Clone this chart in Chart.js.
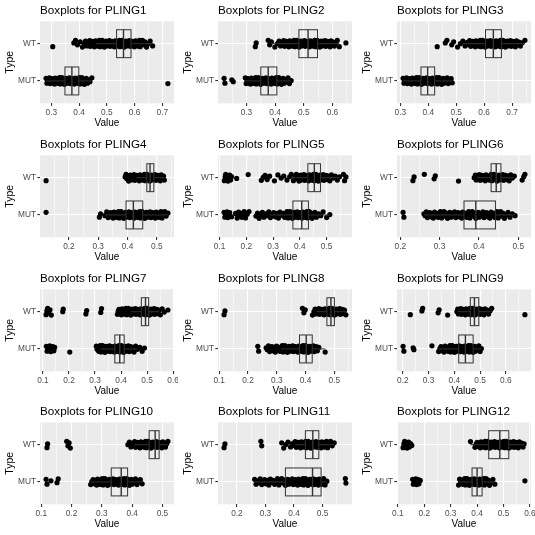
<!DOCTYPE html>
<html>
<head>
<meta charset="utf-8">
<script src="https://cdn.jsdelivr.net/npm/chart.js@4.4.1/dist/chart.umd.min.js"></script>
<style>
  html, body { margin: 0; padding: 0; background: #fff; }
  #grid { position: relative; width: 535px; height: 535px; }
  #grid canvas { position: absolute; }
</style>
</head>
<body>
<div id="grid"></div>
<script>
const panelTitles = ['PLING1', 'PLING2', 'PLING3', 'PLING4', 'PLING5', 'PLING6',
    'PLING7', 'PLING8', 'PLING9', 'PLING10', 'PLING11', 'PLING12'];
const typeLabels = ['MUT', 'WT'];

const xTicks = [
    [0.3, 0.4, 0.5, 0.6, 0.7],
    [0.3, 0.4, 0.5, 0.6],
    [0.3, 0.4, 0.5, 0.6, 0.7],
    [0.2, 0.3, 0.4, 0.5],
    [0.1, 0.2, 0.3, 0.4, 0.5],
    [0.2, 0.3, 0.4, 0.5],
    [0.1, 0.2, 0.3, 0.4, 0.5, 0.6],
    [0.1, 0.2, 0.3, 0.4, 0.5],
    [0.2, 0.3, 0.4, 0.5, 0.6],
    [0.1, 0.2, 0.3, 0.4, 0.5],
    [0.2, 0.3, 0.4, 0.5],
    [0.1, 0.2, 0.3, 0.4, 0.5, 0.6]
];

// box stats: [lower whisker, q1, median, q3, upper whisker]
const wtBoxes = [
    [0.46, 0.535, 0.56, 0.587, 0.665],
    [0.386, 0.483, 0.515, 0.548, 0.624],
    [0.524, 0.605, 0.633, 0.662, 0.746],
    [0.43, 0.466, 0.477, 0.49, 0.526],
    [0.368, 0.43, 0.454, 0.477, 0.548],
    [0.395, 0.431, 0.444, 0.456, 0.49],
    [0.438, 0.478, 0.494, 0.506, 0.546],
    [0.437, 0.474, 0.488, 0.5, 0.54],
    [0.413, 0.462, 0.478, 0.495, 0.545],
    [0.408, 0.456, 0.476, 0.489, 0.518],
    [0.404, 0.44, 0.466, 0.487, 0.541],
    [0.375, 0.444, 0.486, 0.52, 0.578]
];
const mutBoxes = [
    [0.281, 0.349, 0.374, 0.399, 0.446],
    [0.296, 0.35, 0.376, 0.406, 0.456],
    [0.31, 0.374, 0.398, 0.423, 0.486],
    [0.323, 0.395, 0.42, 0.452, 0.538],
    [0.29, 0.374, 0.407, 0.432, 0.512],
    [0.26, 0.362, 0.392, 0.442, 0.492],
    [0.323, 0.376, 0.395, 0.412, 0.463],
    [0.315, 0.379, 0.402, 0.423, 0.468],
    [0.339, 0.417, 0.443, 0.473, 0.505],
    [0.263, 0.331, 0.364, 0.385, 0.433],
    [0.262, 0.37, 0.465, 0.495, 0.515],
    [0.33, 0.381, 0.4, 0.419, 0.467]
];

const wtValues = [
    [0.305, 0.381, 0.387, 0.394, 0.404, 0.412, 0.418, 0.423, 0.428, 0.431, 0.435, 0.438, 0.44, 0.443, 0.447, 0.449, 0.452, 0.455, 0.459, 0.461, 0.464, 0.467, 0.471, 0.473, 0.476, 0.479, 0.483, 0.485, 0.488, 0.491, 0.495, 0.497, 0.5, 0.503, 0.507, 0.509, 0.512, 0.515, 0.519, 0.521, 0.524, 0.527, 0.531, 0.533, 0.536, 0.539, 0.543, 0.545, 0.548, 0.551, 0.555, 0.557, 0.56, 0.563, 0.567, 0.569, 0.572, 0.575, 0.579, 0.581, 0.584, 0.587, 0.591, 0.593, 0.596, 0.599, 0.603, 0.605, 0.608, 0.611, 0.615, 0.617, 0.62, 0.624, 0.628, 0.632, 0.637, 0.643, 0.649, 0.656, 0.665],
    [0.331, 0.334, 0.376, 0.381, 0.387, 0.399, 0.408, 0.414, 0.419, 0.423, 0.427, 0.43, 0.433, 0.436, 0.439, 0.442, 0.445, 0.448, 0.451, 0.454, 0.457, 0.46, 0.463, 0.466, 0.469, 0.472, 0.475, 0.478, 0.481, 0.484, 0.487, 0.49, 0.493, 0.496, 0.499, 0.502, 0.505, 0.508, 0.511, 0.514, 0.517, 0.52, 0.523, 0.526, 0.529, 0.532, 0.535, 0.538, 0.541, 0.544, 0.547, 0.55, 0.553, 0.556, 0.559, 0.562, 0.565, 0.568, 0.571, 0.574, 0.577, 0.58, 0.583, 0.586, 0.589, 0.592, 0.595, 0.599, 0.603, 0.607, 0.612, 0.617, 0.624, 0.647],
    [0.432, 0.461, 0.467, 0.484, 0.491, 0.505, 0.515, 0.524, 0.532, 0.538, 0.543, 0.548, 0.552, 0.556, 0.559, 0.562, 0.565, 0.568, 0.571, 0.574, 0.577, 0.58, 0.583, 0.586, 0.589, 0.592, 0.595, 0.598, 0.601, 0.604, 0.607, 0.61, 0.613, 0.616, 0.619, 0.622, 0.625, 0.628, 0.631, 0.634, 0.637, 0.64, 0.643, 0.646, 0.649, 0.652, 0.655, 0.658, 0.661, 0.664, 0.667, 0.67, 0.673, 0.676, 0.679, 0.682, 0.685, 0.688, 0.691, 0.694, 0.697, 0.7, 0.703, 0.706, 0.709, 0.712, 0.716, 0.72, 0.725, 0.73, 0.736, 0.746],
    [0.122, 0.392, 0.395, 0.398, 0.401, 0.404, 0.407, 0.41, 0.413, 0.416, 0.419, 0.422, 0.425, 0.428, 0.431, 0.434, 0.437, 0.44, 0.443, 0.446, 0.449, 0.452, 0.455, 0.458, 0.461, 0.464, 0.467, 0.47, 0.473, 0.476, 0.479, 0.482, 0.485, 0.488, 0.491, 0.494, 0.497, 0.5, 0.503, 0.506, 0.509, 0.512, 0.515, 0.519, 0.523, 0.526],
    [0.118, 0.121, 0.123, 0.126, 0.129, 0.132, 0.135, 0.138, 0.141, 0.145, 0.164, 0.207, 0.256, 0.263, 0.27, 0.278, 0.287, 0.305, 0.318, 0.33, 0.34, 0.352, 0.362, 0.368, 0.376, 0.382, 0.387, 0.391, 0.394, 0.397, 0.4, 0.403, 0.406, 0.409, 0.412, 0.415, 0.418, 0.421, 0.424, 0.427, 0.43, 0.433, 0.436, 0.439, 0.442, 0.445, 0.448, 0.451, 0.454, 0.457, 0.46, 0.463, 0.466, 0.469, 0.472, 0.475, 0.478, 0.481, 0.484, 0.487, 0.49, 0.494, 0.498, 0.502, 0.507, 0.512, 0.518, 0.525, 0.532, 0.54, 0.548, 0.563, 0.567, 0.572],
    [0.232, 0.235, 0.261, 0.286, 0.289, 0.348, 0.388, 0.391, 0.393, 0.396, 0.398, 0.401, 0.403, 0.406, 0.408, 0.411, 0.413, 0.416, 0.418, 0.421, 0.423, 0.426, 0.428, 0.431, 0.433, 0.436, 0.438, 0.441, 0.443, 0.446, 0.448, 0.451, 0.453, 0.456, 0.458, 0.461, 0.463, 0.466, 0.468, 0.471, 0.474, 0.477, 0.481, 0.485, 0.49, 0.51, 0.514, 0.517],
    [0.112, 0.115, 0.118, 0.122, 0.127, 0.132, 0.176, 0.178, 0.265, 0.268, 0.322, 0.325, 0.386, 0.389, 0.392, 0.395, 0.398, 0.401, 0.404, 0.407, 0.41, 0.413, 0.416, 0.419, 0.422, 0.425, 0.428, 0.431, 0.434, 0.437, 0.44, 0.443, 0.446, 0.449, 0.452, 0.455, 0.458, 0.461, 0.464, 0.467, 0.47, 0.473, 0.476, 0.479, 0.482, 0.485, 0.488, 0.491, 0.494, 0.497, 0.5, 0.503, 0.506, 0.509, 0.512, 0.515, 0.518, 0.521, 0.524, 0.527, 0.53, 0.533, 0.537, 0.541, 0.546, 0.551, 0.558, 0.566, 0.58],
    [0.117, 0.12, 0.389, 0.394, 0.399, 0.424, 0.429, 0.433, 0.437, 0.44, 0.443, 0.446, 0.449, 0.452, 0.455, 0.458, 0.461, 0.464, 0.467, 0.47, 0.473, 0.476, 0.479, 0.482, 0.485, 0.488, 0.491, 0.494, 0.497, 0.5, 0.503, 0.506, 0.509, 0.512, 0.515, 0.518, 0.521, 0.524, 0.527, 0.531, 0.535, 0.54],
    [0.229, 0.274, 0.277, 0.337, 0.341, 0.374, 0.41, 0.413, 0.416, 0.419, 0.422, 0.425, 0.428, 0.431, 0.434, 0.437, 0.44, 0.443, 0.446, 0.449, 0.452, 0.455, 0.458, 0.461, 0.464, 0.467, 0.47, 0.473, 0.476, 0.479, 0.482, 0.485, 0.488, 0.491, 0.494, 0.497, 0.5, 0.503, 0.506, 0.509, 0.512, 0.515, 0.519, 0.523, 0.528, 0.533, 0.539, 0.545, 0.674],
    [0.119, 0.121, 0.184, 0.188, 0.192, 0.196, 0.386, 0.391, 0.396, 0.4, 0.404, 0.408, 0.411, 0.414, 0.417, 0.42, 0.423, 0.426, 0.429, 0.432, 0.435, 0.438, 0.441, 0.444, 0.447, 0.45, 0.453, 0.456, 0.459, 0.462, 0.465, 0.468, 0.471, 0.474, 0.477, 0.48, 0.483, 0.486, 0.489, 0.492, 0.495, 0.498, 0.501, 0.504, 0.507, 0.51, 0.514, 0.518],
    [0.155, 0.158, 0.284, 0.287, 0.357, 0.364, 0.371, 0.379, 0.388, 0.395, 0.4, 0.404, 0.408, 0.411, 0.414, 0.417, 0.42, 0.423, 0.426, 0.429, 0.432, 0.435, 0.438, 0.441, 0.444, 0.447, 0.45, 0.453, 0.456, 0.459, 0.462, 0.465, 0.468, 0.471, 0.474, 0.477, 0.48, 0.483, 0.486, 0.489, 0.492, 0.495, 0.498, 0.501, 0.504, 0.507, 0.51, 0.514, 0.518, 0.523, 0.528, 0.534, 0.541],
    [0.12, 0.123, 0.126, 0.129, 0.132, 0.135, 0.138, 0.141, 0.144, 0.148, 0.153, 0.375, 0.392, 0.396, 0.4, 0.404, 0.408, 0.412, 0.415, 0.418, 0.421, 0.424, 0.427, 0.43, 0.433, 0.436, 0.439, 0.442, 0.445, 0.448, 0.451, 0.454, 0.457, 0.46, 0.463, 0.466, 0.469, 0.472, 0.475, 0.478, 0.481, 0.484, 0.487, 0.49, 0.493, 0.496, 0.499, 0.502, 0.505, 0.508, 0.511, 0.514, 0.517, 0.52, 0.523, 0.526, 0.529, 0.532, 0.535, 0.538, 0.541, 0.544, 0.547, 0.55, 0.553, 0.556, 0.56, 0.564, 0.569, 0.574, 0.578]
];
const mutValues = [
    [0.281, 0.284, 0.287, 0.29, 0.293, 0.296, 0.299, 0.302, 0.305, 0.308, 0.311, 0.314, 0.317, 0.32, 0.323, 0.326, 0.329, 0.332, 0.335, 0.338, 0.341, 0.344, 0.347, 0.35, 0.353, 0.356, 0.359, 0.362, 0.365, 0.368, 0.371, 0.374, 0.377, 0.38, 0.383, 0.386, 0.389, 0.392, 0.395, 0.398, 0.401, 0.404, 0.407, 0.41, 0.413, 0.416, 0.419, 0.422, 0.426, 0.43, 0.434, 0.439, 0.446, 0.72],
    [0.222, 0.225, 0.249, 0.254, 0.296, 0.299, 0.302, 0.305, 0.308, 0.311, 0.314, 0.317, 0.32, 0.323, 0.326, 0.329, 0.332, 0.335, 0.338, 0.341, 0.344, 0.347, 0.35, 0.353, 0.356, 0.359, 0.362, 0.365, 0.368, 0.371, 0.374, 0.377, 0.38, 0.383, 0.386, 0.389, 0.392, 0.395, 0.398, 0.401, 0.404, 0.407, 0.41, 0.413, 0.416, 0.419, 0.422, 0.425, 0.428, 0.432, 0.436, 0.44, 0.445, 0.45, 0.456],
    [0.31, 0.313, 0.316, 0.319, 0.322, 0.325, 0.328, 0.331, 0.334, 0.337, 0.34, 0.343, 0.346, 0.349, 0.352, 0.355, 0.358, 0.361, 0.364, 0.367, 0.37, 0.373, 0.376, 0.379, 0.382, 0.385, 0.388, 0.391, 0.394, 0.397, 0.4, 0.403, 0.406, 0.409, 0.412, 0.415, 0.418, 0.421, 0.424, 0.427, 0.43, 0.433, 0.436, 0.439, 0.442, 0.445, 0.448, 0.451, 0.454, 0.457, 0.46, 0.464, 0.468, 0.472, 0.477, 0.482, 0.486],
    [0.122, 0.304, 0.308, 0.323, 0.329, 0.334, 0.338, 0.342, 0.345, 0.348, 0.351, 0.354, 0.357, 0.36, 0.363, 0.366, 0.369, 0.372, 0.375, 0.378, 0.381, 0.384, 0.387, 0.39, 0.393, 0.396, 0.399, 0.402, 0.405, 0.408, 0.411, 0.414, 0.417, 0.42, 0.423, 0.426, 0.429, 0.432, 0.435, 0.438, 0.441, 0.444, 0.447, 0.45, 0.453, 0.456, 0.459, 0.462, 0.465, 0.468, 0.471, 0.474, 0.477, 0.48, 0.483, 0.486, 0.489, 0.492, 0.495, 0.498, 0.501, 0.504, 0.507, 0.51, 0.514, 0.518, 0.522, 0.527, 0.532, 0.538],
    [0.117, 0.12, 0.122, 0.125, 0.128, 0.131, 0.134, 0.138, 0.145, 0.16, 0.166, 0.171, 0.175, 0.179, 0.183, 0.187, 0.192, 0.197, 0.203, 0.21, 0.236, 0.242, 0.248, 0.254, 0.26, 0.266, 0.272, 0.278, 0.284, 0.29, 0.296, 0.302, 0.308, 0.314, 0.32, 0.326, 0.332, 0.338, 0.343, 0.348, 0.352, 0.356, 0.36, 0.363, 0.366, 0.369, 0.372, 0.375, 0.378, 0.381, 0.384, 0.387, 0.39, 0.393, 0.396, 0.399, 0.402, 0.405, 0.408, 0.411, 0.414, 0.417, 0.42, 0.423, 0.426, 0.429, 0.432, 0.435, 0.438, 0.442, 0.446, 0.451, 0.456, 0.462, 0.47, 0.478, 0.487, 0.5, 0.512],
    [0.207, 0.209, 0.26, 0.263, 0.266, 0.269, 0.272, 0.275, 0.278, 0.281, 0.284, 0.287, 0.29, 0.293, 0.296, 0.299, 0.302, 0.305, 0.308, 0.311, 0.314, 0.317, 0.32, 0.323, 0.326, 0.329, 0.332, 0.335, 0.338, 0.341, 0.344, 0.347, 0.35, 0.353, 0.356, 0.359, 0.362, 0.365, 0.368, 0.371, 0.374, 0.377, 0.38, 0.383, 0.386, 0.389, 0.392, 0.395, 0.398, 0.401, 0.404, 0.407, 0.41, 0.413, 0.416, 0.419, 0.422, 0.425, 0.428, 0.431, 0.434, 0.437, 0.44, 0.443, 0.446, 0.449, 0.452, 0.455, 0.458, 0.461, 0.465, 0.469, 0.474, 0.479, 0.485, 0.492],
    [0.113, 0.116, 0.119, 0.122, 0.126, 0.13, 0.134, 0.138, 0.142, 0.145, 0.203, 0.305, 0.308, 0.311, 0.314, 0.317, 0.32, 0.323, 0.326, 0.329, 0.332, 0.335, 0.338, 0.341, 0.344, 0.347, 0.35, 0.353, 0.356, 0.359, 0.362, 0.365, 0.368, 0.371, 0.374, 0.377, 0.38, 0.383, 0.386, 0.389, 0.392, 0.395, 0.398, 0.401, 0.404, 0.407, 0.41, 0.413, 0.416, 0.419, 0.422, 0.425, 0.428, 0.431, 0.434, 0.437, 0.441, 0.445, 0.45, 0.456, 0.463, 0.472, 0.481, 0.49],
    [0.234, 0.237, 0.263, 0.267, 0.271, 0.275, 0.279, 0.283, 0.287, 0.291, 0.295, 0.299, 0.303, 0.307, 0.311, 0.315, 0.319, 0.322, 0.325, 0.328, 0.331, 0.334, 0.337, 0.34, 0.343, 0.346, 0.349, 0.352, 0.355, 0.358, 0.361, 0.364, 0.367, 0.37, 0.373, 0.376, 0.379, 0.382, 0.385, 0.388, 0.391, 0.394, 0.397, 0.4, 0.403, 0.406, 0.409, 0.412, 0.415, 0.418, 0.421, 0.424, 0.427, 0.43, 0.433, 0.437, 0.441, 0.446, 0.468],
    [0.201, 0.204, 0.24, 0.243, 0.313, 0.339, 0.344, 0.348, 0.352, 0.356, 0.36, 0.364, 0.368, 0.372, 0.376, 0.38, 0.383, 0.386, 0.389, 0.392, 0.395, 0.398, 0.401, 0.404, 0.407, 0.41, 0.413, 0.416, 0.419, 0.422, 0.425, 0.428, 0.431, 0.434, 0.437, 0.44, 0.443, 0.446, 0.449, 0.452, 0.455, 0.458, 0.461, 0.464, 0.467, 0.47, 0.473, 0.476, 0.479, 0.482, 0.486, 0.49, 0.495, 0.5, 0.505],
    [0.116, 0.119, 0.132, 0.152, 0.156, 0.263, 0.267, 0.271, 0.275, 0.279, 0.283, 0.286, 0.289, 0.292, 0.295, 0.298, 0.301, 0.304, 0.307, 0.31, 0.313, 0.316, 0.319, 0.322, 0.325, 0.328, 0.331, 0.334, 0.337, 0.34, 0.343, 0.346, 0.349, 0.352, 0.355, 0.358, 0.361, 0.364, 0.367, 0.37, 0.373, 0.376, 0.379, 0.382, 0.385, 0.388, 0.391, 0.394, 0.397, 0.4, 0.403, 0.407, 0.411, 0.416, 0.421, 0.427, 0.433],
    [0.262, 0.267, 0.272, 0.277, 0.282, 0.287, 0.292, 0.297, 0.302, 0.307, 0.312, 0.317, 0.322, 0.327, 0.332, 0.337, 0.342, 0.347, 0.352, 0.357, 0.362, 0.366, 0.37, 0.374, 0.378, 0.382, 0.386, 0.39, 0.394, 0.398, 0.401, 0.404, 0.407, 0.41, 0.413, 0.416, 0.419, 0.422, 0.425, 0.428, 0.431, 0.434, 0.437, 0.44, 0.443, 0.446, 0.449, 0.452, 0.455, 0.458, 0.461, 0.464, 0.467, 0.47, 0.473, 0.476, 0.479, 0.482, 0.485, 0.488, 0.491, 0.494, 0.497, 0.5, 0.504, 0.509, 0.515, 0.58, 0.582],
    [0.156, 0.159, 0.162, 0.165, 0.168, 0.171, 0.174, 0.177, 0.18, 0.185, 0.33, 0.334, 0.338, 0.342, 0.346, 0.35, 0.353, 0.356, 0.359, 0.362, 0.365, 0.368, 0.371, 0.374, 0.377, 0.38, 0.383, 0.386, 0.389, 0.392, 0.395, 0.398, 0.401, 0.404, 0.407, 0.41, 0.413, 0.416, 0.419, 0.422, 0.425, 0.428, 0.431, 0.434, 0.438, 0.442, 0.447, 0.453, 0.46, 0.467, 0.581]
];

// fixed vertical jitter offsets (category units), cycled over the points
const JITTER = [-0.08, 0.02, 0.09, -0.03, 0.05, -0.09, 0.0, 0.07, -0.06, 0.03, -0.02, 0.085,
    -0.07, 0.01, 0.06, -0.05, 0.04, -0.085, 0.075, -0.01, 0.045, -0.065, 0.025, 0.09];

const FONT = "'Liberation Sans', Arial, Helvetica, sans-serif";
Chart.defaults.font.family = FONT;

const panelBg = {
    id: 'panelBg',
    beforeDraw(chart) {
        const { ctx, chartArea: a } = chart;
        ctx.save();
        ctx.fillStyle = '#EBEBEB';
        ctx.fillRect(a.left, a.top, a.width, a.height);
        ctx.restore();
    }
};

const boxes = {
    id: 'boxes',
    afterDatasetsDraw(chart, args, opts) {
        const { ctx, chartArea: a, scales: { x, y } } = chart;
        ctx.save();
        ctx.beginPath();
        ctx.rect(a.left, a.top, a.width, a.height);
        ctx.clip();
        ctx.strokeStyle = '#333333';
        opts.items.forEach(b => {
            const [lo, q1, med, q3, hi] = b.stats;
            const yc = y.getPixelForValue(b.pos);
            const yt = y.getPixelForValue(b.pos + 0.375);
            const yb = y.getPixelForValue(b.pos - 0.375);
            const x1 = x.getPixelForValue(q1);
            const x3 = x.getPixelForValue(q3);
            ctx.lineWidth = 1;
            ctx.beginPath();
            ctx.moveTo(x.getPixelForValue(lo), yc);
            ctx.lineTo(x1, yc);
            ctx.moveTo(x3, yc);
            ctx.lineTo(x.getPixelForValue(hi), yc);
            ctx.stroke();
            ctx.strokeRect(x1, yt, x3 - x1, yb - yt);
            ctx.lineWidth = 1.4;
            const xm = x.getPixelForValue(med);
            ctx.beginPath();
            ctx.moveTo(xm, yt);
            ctx.lineTo(xm, yb);
            ctx.stroke();
        });
        ctx.restore();
    }
};

function makePanel(i) {
    const col = i % 3, row = Math.floor(i / 3);
    const canvas = document.createElement('canvas');
    canvas.width = 178;
    canvas.height = 134;
    canvas.style.left = Math.round(col * 178.33) + 'px';
    canvas.style.top = Math.round(row * 133.75) + 'px';
    canvas.style.width = '178px';
    canvas.style.height = '134px';
    document.getElementById('grid').appendChild(canvas);

    const wt = wtValues[i], mut = mutValues[i];
    const all = wt.concat(mut);
    const lo = Math.min(...all), hi = Math.max(...all);
    const pad = (hi - lo) * 0.05;
    const majors = xTicks[i];
    const step = majors[1] - majors[0];
    const gridVals = [];
    majors.forEach(v => gridVals.push(v));
    for (let k = -1; k < majors.length; k++) gridVals.push(majors[0] + (k + 0.5) * step);
    const isMajor = v => majors.some(m => Math.abs(m - v) < 1e-6);

    new Chart(canvas, {
        type: 'scatter',
        data: {
            datasets: [
                { data: wt.map((v, k) => ({ x: v, y: 2 + JITTER[k % JITTER.length] })) },
                { data: mut.map((v, k) => ({ x: v, y: 1 + JITTER[(k + 7) % JITTER.length] })) }
            ]
        },
        options: {
            responsive: false,
            animation: false,
            devicePixelRatio: 1,
            layout: { padding: { left: 0, right: 4, top: 0, bottom: 0 } },
            elements: { point: { radius: 2.6, borderWidth: 0, backgroundColor: '#000000', hoverRadius: 2.6 } },
            plugins: {
                legend: { display: false },
                tooltip: { enabled: false },
                title: {
                    display: true,
                    text: 'Boxplots for ' + panelTitles[i],
                    align: 'start',
                    fullSize: false,
                    color: '#000000',
                    font: { size: 11.7, weight: 'normal', lineHeight: 1.2 },
                    padding: { top: 4, bottom: 3.3 }
                },
                boxes: {
                    items: [
                        { pos: 2, stats: wtBoxes[i] },
                        { pos: 1, stats: mutBoxes[i] }
                    ]
                }
            },
            scales: {
                x: {
                    type: 'linear',
                    min: lo - pad,
                    max: hi + pad,
                    afterBuildTicks: s => { s.ticks = gridVals.filter(v => v > s.min && v < s.max).map(v => ({ value: v })); },
                    afterFit: s => { s.height = 30.7; },
                    border: { display: false },
                    grid: {
                        color: '#FFFFFF',
                        lineWidth: c => isMajor(c.tick.value) ? 1.1 : 0.55,
                        tickColor: c => isMajor(c.tick.value) ? '#333333' : 'rgba(0,0,0,0)',
                        tickLength: 2.7,
                        drawTicks: true
                    },
                    ticks: {
                        autoSkip: false,
                        maxRotation: 0,
                        padding: 2,
                        color: '#4D4D4D',
                        font: { size: 8.3 },
                        callback: v => isMajor(v) ? v.toFixed(1) : ''
                    },
                    title: {
                        display: true,
                        text: 'Value',
                        color: '#000000',
                        font: { size: 10 },
                        padding: { top: 0, bottom: 4.5 }
                    }
                },
                y: {
                    type: 'linear',
                    min: 0.4,
                    max: 2.6,
                    afterBuildTicks: s => { s.ticks = [{ value: 1 }, { value: 2 }]; },
                    afterFit: s => { s.width = 40; },
                    border: { display: false },
                    grid: {
                        color: '#FFFFFF',
                        lineWidth: 1.1,
                        tickColor: '#333333',
                        tickLength: 2.7,
                        drawTicks: true
                    },
                    ticks: {
                        padding: 1.3,
                        color: '#4D4D4D',
                        font: { size: 8.3 },
                        callback: v => typeLabels[v - 1]
                    },
                    title: {
                        display: true,
                        text: 'Type',
                        color: '#000000',
                        font: { size: 10.5 },
                        padding: { top: 3.7, bottom: 0 }
                    }
                }
            }
        },
        plugins: [panelBg, boxes]
    });
}

for (let i = 0; i < 12; i++) makePanel(i);
</script>
</body>
</html>
